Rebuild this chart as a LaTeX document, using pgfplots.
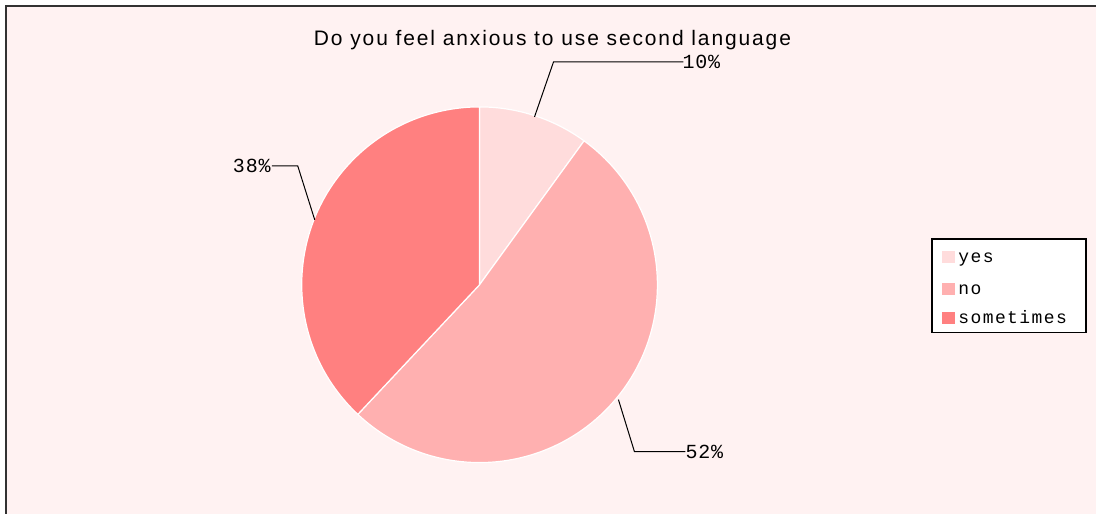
\documentclass[border=0pt]{standalone}
\usepackage{pgfplots}
\pgfplotsset{compat=1.18}
\usepackage{fontspec}
\setmainfont{Liberation Sans}
\newfontfamily\titlefont[LetterSpace=9]{Liberation Sans}
\newfontfamily\lblfont[LetterSpace=4]{Liberation Mono}
\newfontfamily\legfont[LetterSpace=8]{Liberation Mono}
\definecolor{bg}{RGB}{255,242,242}
\definecolor{cyes}{RGB}{255,220,220}
\definecolor{cno}{RGB}{255,176,176}
\definecolor{csome}{RGB}{255,128,128}
\definecolor{frame}{RGB}{50,50,50}
% data (percent)
\def\vyes{10}
\def\vno{52}
\def\vsome{38}
\pgfmathsetmacro\aA{90}
\pgfmathsetmacro\aB{90-3.6*\vyes}
\pgfmathsetmacro\aC{\aB-3.6*\vno}
\pgfmathsetmacro\aD{\aC-3.6*\vsome}
\begin{document}
\begin{tikzpicture}
\begin{axis}[x=1pt,y=1pt,xmin=0,xmax=1097,ymin=0,ymax=514,hide axis,clip=false,scale only axis]
% background
\fill[white] (axis cs:0,0) rectangle (axis cs:1097,514);
\fill[bg] (axis cs:6,0) rectangle (axis cs:1097,508);
\draw[frame,line width=2pt] (axis cs:6,0) -- (axis cs:6,508) -- (axis cs:1097,508);
% pie
\fill[cyes,draw=white,line width=1.2pt] (axis cs:480,229) -- ++(\aA:178pt) arc[start angle=\aA,end angle=\aB,radius=178pt] -- cycle;
\fill[cno,draw=white,line width=1.2pt] (axis cs:480,229) -- ++(\aB:178pt) arc[start angle=\aB,end angle=\aC,radius=178pt] -- cycle;
\fill[csome,draw=white,line width=1.2pt] (axis cs:480,229) -- ++(\aC:178pt) arc[start angle=\aC,end angle=\aD,radius=178pt] -- cycle;
% title
\node[font=\titlefont\fontsize{21}{24}\selectfont,text=black] at (axis cs:553,474) {Do you feel anxious to use second language};
% leaders and labels
\draw[black,line width=1pt] (axis cs:535,397) -- (axis cs:554,452) -- (axis cs:684,452);
\node[anchor=west,inner sep=0pt,font=\lblfont\fontsize{20}{22}\selectfont] at (axis cs:683,452) {\vyes\%};
\draw[black,line width=1pt] (axis cs:315,294) -- (axis cs:298,348) -- (axis cs:272,348);
\node[anchor=east,inner sep=0pt,font=\lblfont\fontsize{20}{22}\selectfont] at (axis cs:271,348) {\vsome\%};
\draw[black,line width=1pt] (axis cs:619,114) -- (axis cs:635,62) -- (axis cs:686,62);
\node[anchor=west,inner sep=0pt,font=\lblfont\fontsize{20}{22}\selectfont] at (axis cs:686,62) {\vno\%};
% legend
\draw[black,line width=1.5pt,fill=white] (axis cs:933,275) rectangle (axis cs:1087,181);
\fill[cyes] (axis cs:943,263) rectangle (axis cs:956,251);
\fill[cno] (axis cs:943,231) rectangle (axis cs:956,219);
\fill[csome] (axis cs:943,202) rectangle (axis cs:956,190);
\node[anchor=base west,inner sep=0pt,font=\legfont\fontsize{18}{20}\selectfont] at (axis cs:959,251) {yes};
\node[anchor=base west,inner sep=0pt,font=\legfont\fontsize{18}{20}\selectfont] at (axis cs:959,219) {no};
\node[anchor=base west,inner sep=0pt,font=\legfont\fontsize{18}{20}\selectfont] at (axis cs:959,190) {sometimes};
\end{axis}
\end{tikzpicture}
\end{document}
